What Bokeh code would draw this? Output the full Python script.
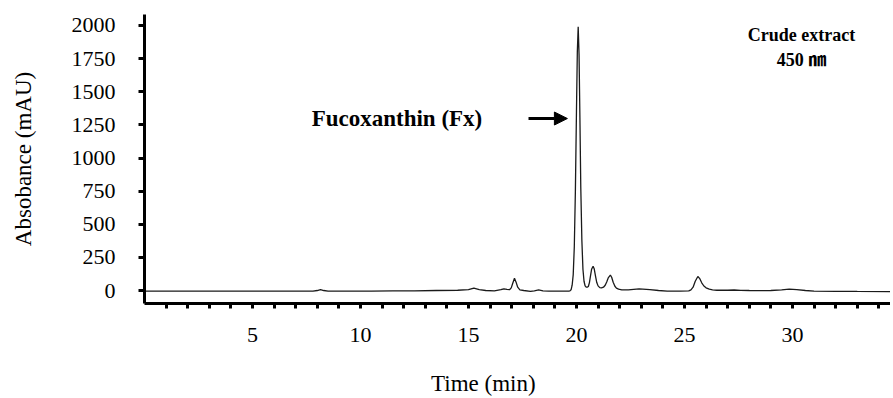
from bokeh.plotting import figure
from bokeh.models import Range1d, FixedTicker, Label, Arrow, NormalHead, ColumnDataSource
from bokeh.layouts import column
from bokeh.embed import file_html
from bokeh.resources import INLINE

# Chromatogram trace
time_min = [0.0, 1.0, 2.0, 3.0, 4.0, 5.0, 6.0, 7.0, 7.8, 8.0, 8.15, 8.3, 8.5, 9.5, 10.5,
            11.5, 12.5, 13.5, 14.5, 15.0, 15.25, 15.5, 15.8, 16.2, 16.5, 16.64, 16.78, 16.9,
            16.98, 17.05, 17.13, 17.2, 17.28, 17.38, 17.56, 17.87, 18.05, 18.25, 18.45, 18.72,
            19.2, 19.64, 19.7, 19.75, 19.8, 19.85, 19.9, 19.95, 20.0, 20.04, 20.08, 20.12,
            20.16, 20.2, 20.25, 20.3, 20.35, 20.4, 20.45, 20.5, 20.55, 20.6, 20.65, 20.7,
            20.77, 20.82, 20.88, 20.94, 21.0, 21.08, 21.16, 21.25, 21.33, 21.4, 21.47, 21.57,
            21.63, 21.7, 21.78, 21.85, 21.95, 22.1, 22.4, 22.9, 23.4, 23.8, 24.2, 24.8, 25.2,
            25.3, 25.4, 25.5, 25.62, 25.7, 25.8, 25.9, 26.0, 26.15, 26.3, 26.5, 27.0, 27.3,
            27.6, 28.0, 28.5, 29.0, 29.5, 29.85, 30.2, 30.6, 31.0, 32.0, 33.0, 34.6]
absorbance = [-5, -5, -5, -5, -5, -5, -4, -4, -4, 0, 6, 0, -4, -4, -4,
              -3, -2, 0, 2, 6, 18, 6, 0, -2, 6, 12, 8, 6,
              20, 55, 93, 65, 25, 5, 0, -6, -2, 4, -2, -5,
              -5, -4, -2, 5, 40, 120, 330, 750, 1350, 1800, 1990, 1780,
              1300, 780, 380, 160, 70, 35, 25, 25, 30, 60, 110, 160,
              183, 165, 110, 60, 35, 22, 20, 25, 40, 65, 95, 116,
              100, 62, 32, 18, 10, 5, 5, 12, 6, 0, -4, -5, -3,
              5, 25, 70, 106, 92, 58, 34, 20, 10, 5, 2, 2, 4,
              1, 0, -1, 0, 5, 11, 6, 0, -4, -6, -7, -8]
assert len(time_min) == len(absorbance)

x_major = [5, 10, 15, 20, 25, 30]
x_minor = [i for i in range(1, 35) if i % 5 != 0]
y_major = [0, 250, 500, 750, 1000, 1250, 1500, 1750, 2000]

SERIF = "Liberation Serif"
xr = Range1d(0, 34.54)

p = figure(width=890, height=360, output_backend="svg", toolbar_location=None,
           x_range=xr, y_range=Range1d(-98, 2083),
           min_border_left=144, min_border_right=0, min_border_top=14, min_border_bottom=57)
p.outline_line_color = None
p.grid.visible = False
p.background_fill_color = "white"
p.border_fill_color = "white"

src = ColumnDataSource(dict(t=time_min, a=absorbance))
p.line("t", "a", source=src, line_color="#1a1a1a", line_width=1.3)

# x axis
xa = p.xaxis[0]
xa.ticker = FixedTicker(ticks=x_major, minor_ticks=x_minor)
xa.axis_line_width = 3
xa.axis_line_color = "black"
xa.major_tick_line_width = 3
xa.minor_tick_line_width = 3
xa.major_tick_in = 0
xa.minor_tick_in = 0
xa.major_tick_out = 5
xa.minor_tick_out = 5
xa.major_label_standoff = 19
xa.major_label_text_font = SERIF
xa.major_label_text_font_size = "22px"
xa.major_label_text_color = "black"

# y axis
ya = p.yaxis[0]
ya.ticker = FixedTicker(ticks=y_major, minor_ticks=[])
ya.axis_line_width = 3
ya.axis_line_color = "black"
ya.major_tick_line_width = 3
ya.major_tick_in = 0
ya.major_tick_out = 6
ya.minor_tick_out = 0
ya.major_label_standoff = 23
ya.major_label_text_font = SERIF
ya.major_label_text_font_size = "22px"
ya.major_label_text_color = "black"
ya.axis_label = "Absobance (mAU)"
ya.axis_label_text_font = SERIF
ya.axis_label_text_font_size = "23px"
ya.axis_label_text_font_style = "normal"
ya.axis_label_text_color = "black"
ya.axis_label_standoff = 33

# annotations
p.add_layout(Label(x=11.69, y=1298, text="Fucoxanthin (Fx)", text_align="center",
                   text_baseline="middle", text_font=SERIF, text_font_size="23px",
                   text_font_style="bold", text_color="black"))
p.add_layout(Arrow(x_start=17.78, y_start=1298, x_end=19.58, y_end=1298,
                   line_width=3, line_color="black",
                   end=NormalHead(size=13, fill_color="black", line_color="black", line_width=1)))
p.add_layout(Label(x=30.42, y=1925, text="Crude extract", text_align="center",
                   text_baseline="middle", text_font=SERIF, text_font_size="18px",
                   text_font_style="bold", text_color="black"))
p.add_layout(Label(x=30.42, y=1736, text="450 ㎚", text_align="center",
                   text_baseline="middle", text_font="'Liberation Serif', 'Noto Sans CJK KR'",
                   text_font_size="18px", text_font_style="bold", text_color="black"))

# x axis title strip (sits under the axis, offset left as in the reference)
p2 = figure(width=890, height=38, output_backend="svg", toolbar_location=None,
            x_range=xr, y_range=Range1d(0, 38),
            min_border_left=144, min_border_right=0, min_border_top=0, min_border_bottom=0)
p2.axis.visible = False
p2.grid.visible = False
p2.outline_line_color = None
p2.background_fill_color = "white"
p2.border_fill_color = "white"
p2.add_layout(Label(x=15.69, y=15, text="Time (min)", text_align="center",
                    text_baseline="middle", text_font=SERIF, text_font_size="23px",
                    text_color="black"))

open("out.html", "w").write(file_html(column(p, p2, spacing=0), INLINE))
